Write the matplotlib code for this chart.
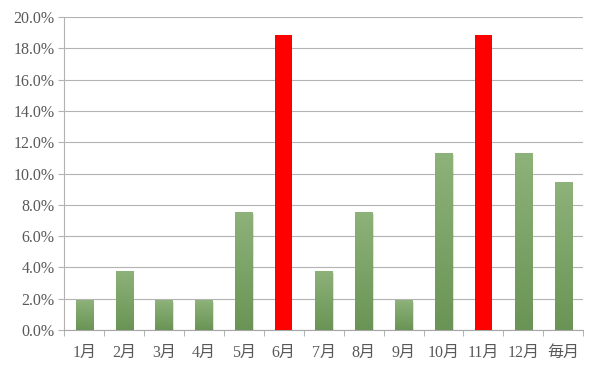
import matplotlib
matplotlib.use("Agg")
import matplotlib.pyplot as plt
import numpy as np
from matplotlib.ticker import PercentFormatter
from matplotlib.colors import LinearSegmentedColormap

categories = ["1月", "2月", "3月", "4月", "5月", "6月", "7月", "8月", "9月", "10月", "11月", "12月", "毎月"]
values = [1.89, 3.77, 1.89, 1.89, 7.55, 18.87, 3.77, 7.55, 1.89, 11.32, 18.87, 11.32, 9.43]
highlight = ["6月", "11月"]
yticks = np.arange(0, 20.1, 2.0)

plt.rcParams['font.family'] = ['Liberation Serif', 'Noto Sans CJK JP', 'DejaVu Sans']

fig = plt.figure(figsize=(6.0, 3.7), dpi=100)
ax = fig.add_axes([0.107, 0.108, 0.865, 0.846])

x = np.arange(len(categories))
width = 0.43
green_cmap = LinearSegmentedColormap.from_list("g", ["#6a9455", "#8db27a"])
grad = np.linspace(0, 1, 100).reshape(-1, 1)

for xi, cat, v in zip(x, categories, values):
    if cat in highlight:
        ax.bar(xi, v, width=width, color="#ff0000", zorder=3, linewidth=0)
    else:
        # soft shadow
        ax.bar(xi + 0.04, v, width=width, bottom=-0.12, color="#000000", alpha=0.12, zorder=2, linewidth=0)
        b = ax.bar(xi, v, width=width, color="none", zorder=3, linewidth=0)[0]
        im = ax.imshow(grad, cmap=green_cmap, aspect="auto", origin="lower",
                       extent=(xi - width / 2, xi + width / 2, 0, v), zorder=3)
        im.set_clip_path(b)

ax.set_xlim(-0.5, len(categories) - 0.5)
ax.set_ylim(0, 20)
ax.set_yticks(yticks)
ax.yaxis.set_major_formatter(PercentFormatter(decimals=1))
ax.set_xticks(x)
ax.set_xticklabels(categories)
ax.set_xticks(np.arange(-0.5, len(categories), 1.0), minor=True)

ax.grid(axis="y", color="#b3b3b3", linewidth=0.8, zorder=0)
ax.set_axisbelow(True)
for s in ["top", "right"]:
    ax.spines[s].set_visible(False)
ax.spines["left"].set_color("#b3b3b3")
ax.spines["bottom"].set_color("#a6a6a6")
ax.tick_params(axis="y", length=4, color="#b3b3b3", labelsize=11.5, labelcolor="#595959", pad=3)
ax.tick_params(axis="x", which="major", length=0, labelsize=11.5, labelcolor="#595959", pad=11)
ax.tick_params(axis="x", which="minor", length=4, color="#a6a6a6")

fig.savefig("out.png", dpi=100)
